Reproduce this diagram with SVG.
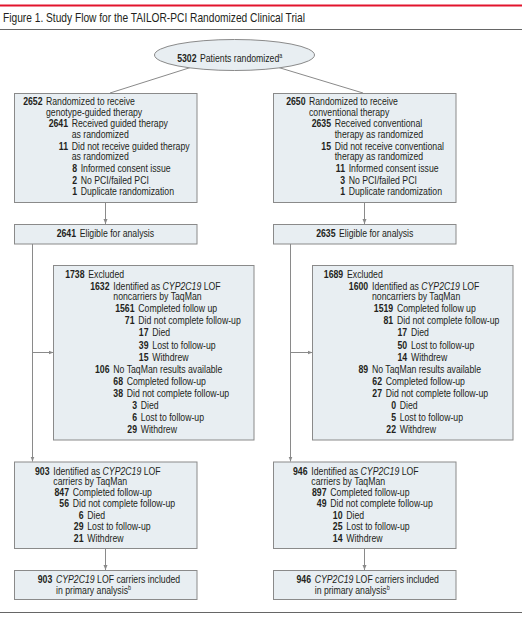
<svg xmlns="http://www.w3.org/2000/svg" width="526" height="619" viewBox="0 0 526 619">
<style>
text{font-family:"Liberation Sans",Arial,sans-serif;font-size:10.5px;fill:#231f20}
.n{font-weight:bold;text-anchor:end}
.box{fill:#e8eef2;stroke:#8a8a8a;stroke-width:1}
.conn{fill:none;stroke:#8a8a8a;stroke-width:1}
.title{font-size:13px}
.i{font-style:italic}
.sup{font-size:6.5px}
</style>
<defs>
<marker id="ah" viewBox="0 0 6 6" refX="6" refY="3" markerWidth="5" markerHeight="5" orient="auto" markerUnits="userSpaceOnUse">
<path d="M0,0.6 L6,3 L0,5.4 Z" fill="#8a8a8a"/>
</marker>
</defs>
<rect x="0" y="4.5" width="522" height="2" fill="#e2142d"/>
<text class="title" x="3" y="21.5" textLength="302" lengthAdjust="spacingAndGlyphs">Figure 1. Study Flow for the TAILOR-PCI Randomized Clinical Trial</text>
<line x1="0" y1="29.5" x2="522" y2="29.5" stroke="#666" stroke-width="1"/>
<line x1="0" y1="612.5" x2="522" y2="612.5" stroke="#666" stroke-width="1"/>

<g id="connectors">
<line class="conn" x1="192" y1="67" x2="110" y2="93"/>
<line class="conn" x1="277" y1="67" x2="363" y2="93"/>
<line class="conn" x1="105.5" y1="203" x2="105.5" y2="224" marker-end="url(#ah)"/>
<line class="conn" x1="364.5" y1="203" x2="364.5" y2="224" marker-end="url(#ah)"/>
<line class="conn" x1="32.5" y1="244" x2="32.5" y2="461.5" marker-end="url(#ah)"/>
<line class="conn" x1="32.5" y1="352.5" x2="53.5" y2="352.5" marker-end="url(#ah)"/>
<line class="conn" x1="290.5" y1="244" x2="290.5" y2="461.5" marker-end="url(#ah)"/>
<line class="conn" x1="290.5" y1="352.5" x2="312.5" y2="352.5" marker-end="url(#ah)"/>
<line class="conn" x1="105.5" y1="548.5" x2="105.5" y2="570" marker-end="url(#ah)"/>
<line class="conn" x1="364.5" y1="548.5" x2="364.5" y2="570" marker-end="url(#ah)"/>
</g>

<g id="randomized">
<ellipse class="box" cx="234.5" cy="55" rx="80" ry="15.5"/>
<g transform="scale(0.83,1)">
<text class="n" x="236.75" y="62">5302</text><text x="240.96" y="62">Patients randomized<tspan class="sup" dy="-3.5">a</tspan></text>
</g>
</g>

<g id="guided">
<rect class="box" x="14.5" y="93.5" width="182.5" height="109"/>
<g transform="scale(0.83,1)">
<text class="n" x="51.2" y="105.5">2652</text><text x="55.42" y="105.5">Randomized to receive</text>
<text x="55.42" y="116">genotype-guided therapy</text>
<text class="n" x="81.93" y="127.5">2641</text><text x="86.39" y="127.5">Received guided therapy</text>
<text x="86.39" y="138">as randomized</text>
<text class="n" x="81.93" y="150">11</text><text x="86.39" y="150">Did not receive guided therapy</text>
<text x="86.39" y="160.5">as randomized</text>
<text class="n" x="92.77" y="172.5">8</text><text x="97.23" y="172.5">Informed consent issue</text>
<text class="n" x="92.77" y="184">2</text><text x="97.23" y="184">No PCI/failed PCI</text>
<text class="n" x="92.77" y="195.5">1</text><text x="97.23" y="195.5">Duplicate randomization</text>
</g>
</g>

<g id="conventional">
<rect class="box" x="273.5" y="93.5" width="182.5" height="109"/>
<g transform="scale(0.83,1)">
<text class="n" x="368.07" y="105.5">2650</text><text x="372.29" y="105.5">Randomized to receive</text>
<text x="372.29" y="116">conventional therapy</text>
<text class="n" x="398.8" y="127.5">2635</text><text x="403.25" y="127.5">Received conventional</text>
<text x="403.25" y="138">therapy as randomized</text>
<text class="n" x="398.8" y="150">15</text><text x="403.25" y="150">Did not receive conventional</text>
<text x="403.25" y="160.5">therapy as randomized</text>
<text class="n" x="415.66" y="172.5">11</text><text x="420.12" y="172.5">Informed consent issue</text>
<text class="n" x="415.66" y="184">3</text><text x="420.12" y="184">No PCI/failed PCI</text>
<text class="n" x="415.66" y="195.5">1</text><text x="420.12" y="195.5">Duplicate randomization</text>
</g>
</g>

<g id="eligible-left">
<rect class="box" x="14.5" y="224.5" width="182.5" height="19.5"/>
<g transform="scale(0.83,1)">
<text class="n" x="91.57" y="237.5">2641</text><text x="96.02" y="237.5">Eligible for analysis</text>
</g>
</g>
<g id="eligible-right">
<rect class="box" x="273.5" y="224.5" width="182.5" height="19.5"/>
<g transform="scale(0.83,1)">
<text class="n" x="404.22" y="237.5">2635</text><text x="408.43" y="237.5">Eligible for analysis</text>
</g>
</g>

<g id="excluded-left">
<rect class="box" x="53.5" y="265.5" width="200.5" height="174.5"/>
<g transform="scale(0.83,1)">
<text class="n" x="101.81" y="278">1738</text><text x="106.39" y="278">Excluded</text>
<text class="n" x="131.93" y="290">1632</text><text x="136.51" y="290">Identified as <tspan class="i">CYP2C19</tspan> LOF</text>
<text x="136.51" y="300.5">noncarriers by TaqMan</text>
<text class="n" x="162.05" y="312.5">1561</text><text x="166.63" y="312.5">Completed follow up</text>
<text class="n" x="162.05" y="324.5">71</text><text x="166.63" y="324.5">Did not complete follow-up</text>
<text class="n" x="178.92" y="336.5">17</text><text x="183.49" y="336.5">Died</text>
<text class="n" x="178.92" y="349">39</text><text x="183.49" y="349">Lost to follow-up</text>
<text class="n" x="178.92" y="361">15</text><text x="183.49" y="361">Withdrew</text>
<text class="n" x="131.93" y="373">106</text><text x="136.51" y="373">No TaqMan results available</text>
<text class="n" x="148.19" y="385">68</text><text x="152.65" y="385">Completed follow-up</text>
<text class="n" x="148.19" y="397.5">38</text><text x="152.65" y="397.5">Did not complete follow-up</text>
<text class="n" x="165.06" y="409.5">3</text><text x="169.52" y="409.5">Died</text>
<text class="n" x="165.06" y="421.5">6</text><text x="169.52" y="421.5">Lost to follow-up</text>
<text class="n" x="165.06" y="433.5">29</text><text x="169.52" y="433.5">Withdrew</text>
</g>
</g>

<g id="excluded-right">
<rect class="box" x="312.5" y="265.5" width="200.5" height="174.5"/>
<g transform="scale(0.83,1)">
<text class="n" x="413.49" y="278">1689</text><text x="418.07" y="278">Excluded</text>
<text class="n" x="443.61" y="290">1600</text><text x="448.19" y="290">Identified as <tspan class="i">CYP2C19</tspan> LOF</text>
<text x="448.19" y="300.5">noncarriers by TaqMan</text>
<text class="n" x="473.73" y="312.5">1519</text><text x="478.31" y="312.5">Completed follow up</text>
<text class="n" x="473.73" y="324.5">81</text><text x="478.31" y="324.5">Did not complete follow-up</text>
<text class="n" x="490.6" y="336.5">17</text><text x="495.18" y="336.5">Died</text>
<text class="n" x="490.6" y="349">50</text><text x="495.18" y="349">Lost to follow-up</text>
<text class="n" x="490.6" y="361">14</text><text x="495.18" y="361">Withdrew</text>
<text class="n" x="443.61" y="373">89</text><text x="448.19" y="373">No TaqMan results available</text>
<text class="n" x="460.24" y="385">62</text><text x="464.7" y="385">Completed follow-up</text>
<text class="n" x="460.24" y="397.5">27</text><text x="464.7" y="397.5">Did not complete follow-up</text>
<text class="n" x="477.11" y="409.5">0</text><text x="481.57" y="409.5">Died</text>
<text class="n" x="477.11" y="421.5">5</text><text x="481.57" y="421.5">Lost to follow-up</text>
<text class="n" x="477.11" y="433.5">22</text><text x="481.57" y="433.5">Withdrew</text>
</g>
</g>

<g id="carriers-left">
<rect class="box" x="14.5" y="462" width="182.5" height="86.5"/>
<g transform="scale(0.83,1)">
<text class="n" x="59.64" y="475">903</text><text x="64.22" y="475">Identified as <tspan class="i">CYP2C19</tspan> LOF</text>
<text x="64.22" y="485.5">carriers by TaqMan</text>
<text class="n" x="83.13" y="496.5">847</text><text x="87.59" y="496.5">Completed follow-up</text>
<text class="n" x="83.13" y="507">56</text><text x="87.59" y="507">Did not complete follow-up</text>
<text class="n" x="100.6" y="519">6</text><text x="105.18" y="519">Died</text>
<text class="n" x="100.6" y="530.5">29</text><text x="105.18" y="530.5">Lost to follow-up</text>
<text class="n" x="100.6" y="542">21</text><text x="105.18" y="542">Withdrew</text>
</g>
</g>

<g id="carriers-right">
<rect class="box" x="273.5" y="462" width="182.5" height="86.5"/>
<g transform="scale(0.83,1)">
<text class="n" x="370.48" y="475">946</text><text x="375.06" y="475">Identified as <tspan class="i">CYP2C19</tspan> LOF</text>
<text x="375.06" y="485.5">carriers by TaqMan</text>
<text class="n" x="393.37" y="496.5">897</text><text x="397.95" y="496.5">Completed follow-up</text>
<text class="n" x="393.37" y="507">49</text><text x="397.95" y="507">Did not complete follow-up</text>
<text class="n" x="412.65" y="519">10</text><text x="417.23" y="519">Died</text>
<text class="n" x="412.65" y="530.5">25</text><text x="417.23" y="530.5">Lost to follow-up</text>
<text class="n" x="412.65" y="542">14</text><text x="417.23" y="542">Withdrew</text>
</g>
</g>

<g id="primary-left">
<rect class="box" x="14.5" y="570.5" width="182.5" height="29"/>
<g transform="scale(0.83,1)">
<text class="n" x="63.01" y="583">903</text><text x="67.47" y="583"><tspan class="i">CYP2C19</tspan> LOF carriers included</text>
<text x="67.47" y="594">in primary analysis<tspan class="sup" dy="-3.5">b</tspan></text>
</g>
</g>

<g id="primary-right">
<rect class="box" x="273.5" y="570.5" width="182.5" height="29"/>
<g transform="scale(0.83,1)">
<text class="n" x="374.7" y="583">946</text><text x="379.16" y="583"><tspan class="i">CYP2C19</tspan> LOF carriers included</text>
<text x="379.16" y="594">in primary analysis<tspan class="sup" dy="-3.5">b</tspan></text>
</g>
</g>
</svg>
